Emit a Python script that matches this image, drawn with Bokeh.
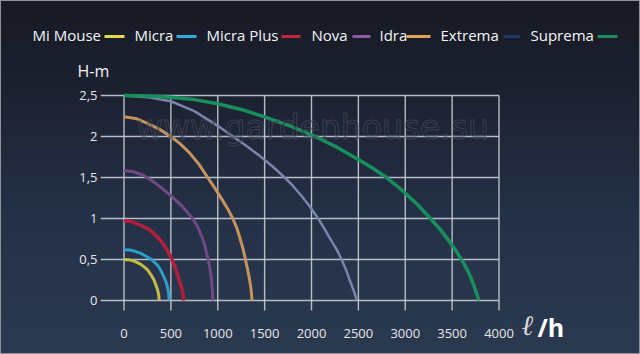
from bokeh.plotting import figure
from bokeh.models import Label, FixedTicker, Range1d
from bokeh.layouts import column, row
from bokeh.core.properties import value
from bokeh.embed import file_html
from bokeh.resources import INLINE

# ---------------- data ----------------
series_names = ["Mi Mouse", "Micra", "Micra Plus", "Nova", "Idra", "Extrema", "Suprema"]
curve_colors = ["#c4bd45", "#2b9fc9", "#b41e3c", "#6e4a86", "#c7935c", "#7c84ab", "#17905e"]
legend_colors = ["#e6d84a", "#31a9da", "#c8223c", "#8e5aa0", "#e3a152", "#1d3a66", "#1b8c5c"]

q_mimouse = [0, 60, 120, 180, 214, 250, 290, 320, 340, 358, 370, 375]
h_mimouse = [0.50, 0.495, 0.475, 0.44, 0.41, 0.375, 0.31, 0.25, 0.19, 0.13, 0.07, 0.0]

q_micra = [0, 60, 120, 180, 250, 293, 340, 370, 400, 429, 450, 465, 476, 482]
h_micra = [0.62, 0.615, 0.60, 0.575, 0.53, 0.50, 0.45, 0.41, 0.35, 0.28, 0.22, 0.155, 0.09, 0.0]

q_micraplus = [0, 75, 150, 220, 286, 350, 400, 460, 511, 550, 592, 615, 630, 636]
h_micraplus = [0.97, 0.965, 0.93, 0.895, 0.85, 0.78, 0.72, 0.62, 0.50, 0.39, 0.24, 0.15, 0.07, 0.0]

q_nova = [0, 100, 200, 300, 393, 500, 620, 733, 790, 850, 893, 915, 930, 942, 947]
h_nova = [1.585, 1.57, 1.53, 1.46, 1.38, 1.28, 1.15, 1.0, 0.89, 0.72, 0.52, 0.40, 0.28, 0.14, 0.0]

q_idra = [0, 125, 250, 375, 500, 600, 700, 800, 893, 960, 1030, 1100, 1161, 1205, 1240, 1270,
          1295, 1320, 1340, 1356, 1366]
h_idra = [2.24, 2.22, 2.16, 2.09, 2.0, 1.91, 1.80, 1.66, 1.50, 1.385, 1.26, 1.13, 1.0, 0.88, 0.75,
          0.63, 0.50, 0.37, 0.25, 0.13, 0.0]

q_extrema = [0, 250, 500, 750, 1000, 1161, 1300, 1440, 1580, 1714, 1800, 1890, 1980, 2071, 2140,
             2211, 2270, 2321, 2370, 2410, 2450, 2485]
h_extrema = [2.50, 2.48, 2.43, 2.31, 2.13, 2.0, 1.89, 1.77, 1.64, 1.50, 1.40, 1.28, 1.15, 1.0, 0.87,
             0.73, 0.62, 0.50, 0.37, 0.24, 0.12, 0.0]

q_suprema = [0, 250, 500, 750, 1000, 1250, 1500, 1770, 2040, 2270, 2500, 2650, 2800, 2980, 3130,
             3268, 3370, 3464, 3535, 3600, 3655, 3700, 3745, 3786]
h_suprema = [2.50, 2.495, 2.48, 2.45, 2.40, 2.33, 2.24, 2.13, 2.0, 1.87, 1.72, 1.615, 1.50, 1.33,
             1.17, 1.0, 0.87, 0.73, 0.615, 0.50, 0.39, 0.28, 0.14, 0.0]

x_ticks = [0, 500, 1000, 1500, 2000, 2500, 3000, 3500, 4000]
y_ticks = [0, 0.5, 1, 1.5, 2, 2.5]
y_tick_labels = ["0", "0,5", "1", "1,5", "2", "2,5"]

y_title = "H-m"
x_title_l = "ℓ"
x_title_h = "/h"
watermark = "www.gardenhouse.su"

# ---------------- layout (page pixels) ----------------
W, H = 640, 354
HEAD = 80                                   # height of the header strip
MAIN_W = 520                                # width of header + chart column
FL, FR, FT, FB = 100, 502, 92, 312          # frame edges in page px
X0, XS = 123.5, 0.09375                     # px of Q=0, px per l/h
Y0, YS = 300.0, 82.0                        # px of H=0, px per metre


def qx(px):
    return (px - X0) / XS


def hy(py):
    return (Y0 - py) / YS


def bare(fig):
    fig.background_fill_color = None
    fig.border_fill_color = None
    fig.outline_line_color = None
    if "frame_align" in fig.properties():
        fig.frame_align = False
    return fig


def strip(w, h, xr, yr):
    return bare(figure(width=w, height=h, x_range=Range1d(*xr), y_range=Range1d(*yr),
                       min_border=0, min_border_left=0, min_border_right=0,
                       min_border_top=0, min_border_bottom=0,
                       x_axis_type=None, y_axis_type=None, title=None,
                       output_backend="svg", toolbar_location=None))


legend_text_px = [32, 134, 206, 311, 379, 440, 530]
legend_swatch_px = [(104, 124), (176, 196), (281, 300), (352, 370), (406, 430), (503, 520), (597, 617)]
LEG_Y, SW_Y = 34, 36

# header strip (left part): legend + y title
header = strip(MAIN_W, HEAD, (0, MAIN_W), (HEAD, 0))
# side strip (right part, full height): rest of legend + x title
side = strip(W - MAIN_W, H, (MAIN_W, W), (H, 0))

for fig, inside in ((header, lambda a, b: b <= MAIN_W), (side, lambda a, b: a >= MAIN_W)):
    idx_t = [i for i, t in enumerate(legend_text_px) if inside(t, t + 40)]
    idx_s = [i for i, s in enumerate(legend_swatch_px) if inside(*s)]
    fig.text(x=[legend_text_px[i] for i in idx_t], y=[LEG_Y] * len(idx_t),
             text=[series_names[i] for i in idx_t],
             text_font=value("Open Sans"), text_font_size="15px", text_align="left",
             text_baseline="middle", text_color="#f4f4f6")
    fig.segment(x0=[legend_swatch_px[i][0] for i in idx_s], y0=[SW_Y] * len(idx_s),
                x1=[legend_swatch_px[i][1] for i in idx_s], y1=[SW_Y] * len(idx_s),
                line_color=[legend_colors[i] for i in idx_s], line_width=3)

header.text(x=[77], y=[70], text=[y_title], text_font=value("Open Sans"), text_font_size="16px",
            text_align="left", text_baseline="middle", text_color="#f4f4f6")

side.text(x=[521], y=[325], text=[x_title_l], text_font=value("DejaVu Serif"),
          text_font_style="italic", text_font_size="28px", text_align="left",
          text_baseline="middle", text_color="#d8d8dc")
side.text(x=[537], y=[326], text=[x_title_h], text_font=value("Open Sans"),
          text_font_style="bold", text_font_size="25px", text_align="left",
          text_baseline="middle", text_color="#ffffff")

# main chart
p = bare(figure(frame_width=FR - FL, frame_height=FB - FT,
                min_border_left=FL, min_border_right=MAIN_W - FR,
                min_border_top=FT - HEAD, min_border_bottom=H - FB,
                x_range=Range1d(qx(FL), qx(FR)), y_range=Range1d(hy(FB), hy(FT)),
                output_backend="svg", toolbar_location=None))
p.grid.grid_line_color = None
for ax in (p.xaxis[0], p.yaxis[0]):
    ax.axis_line_color = None
    ax.major_tick_line_color = None
    ax.minor_tick_line_color = None
    ax.major_tick_out = 0
    ax.major_tick_in = 0
    ax.minor_tick_out = 0
    ax.minor_tick_in = 0
    ax.major_label_text_color = "#e6e6ea"
    ax.major_label_text_font = "Open Sans"
    ax.major_label_text_font_size = "13px"
p.xaxis.ticker = FixedTicker(ticks=x_ticks)
p.yaxis.ticker = FixedTicker(ticks=y_ticks)
p.yaxis.major_label_overrides = {t: l for t, l in zip(y_ticks, y_tick_labels)}
p.xaxis.major_label_overrides = {t: str(t) for t in x_ticks}
p.xaxis.major_label_standoff = 16
p.yaxis.major_label_standoff = 3

grid_col = "#c8ccd6"
p.segment(x0=[qx(FL)] * len(y_ticks), y0=y_ticks, x1=[x_ticks[-1]] * len(y_ticks), y1=y_ticks,
          line_color=grid_col, line_width=1.4, line_alpha=0.9)
p.segment(x0=x_ticks, y0=[hy(310)] * len(x_ticks), x1=x_ticks, y1=[y_ticks[-1]] * len(x_ticks),
          line_color=grid_col, line_width=1.4, line_alpha=0.9)

curves = [(q_mimouse, h_mimouse), (q_micra, h_micra), (q_micraplus, h_micraplus),
          (q_nova, h_nova), (q_idra, h_idra), (q_extrema, h_extrema), (q_suprema, h_suprema)]
widths = [3, 3, 3.5, 3, 3, 2.5, 3.5]
for (qs, hs), c, w in zip(curves, curve_colors, widths):
    p.line(qs, hs, line_color=c, line_width=w, line_join="round")

p.add_layout(Label(x=qx(312), y=hy(127), text=watermark, text_align="center",
                   text_baseline="alphabetic", text_font="DejaVu Sans", text_font_size="33px",
                   text_color="#1c2230", text_alpha=0.35, text_outline_color="#737a8a"))

layout = row(column(header, p), side)
layout.styles = {
    "background": "linear-gradient(180deg, #171a24 0%, #1c2130 25%, #243046 60%, #2b3a51 100%)",
    "box-shadow": "inset 0 0 0 1px #8d939c",
}

open("out.html", "w").write(file_html(layout, INLINE))
